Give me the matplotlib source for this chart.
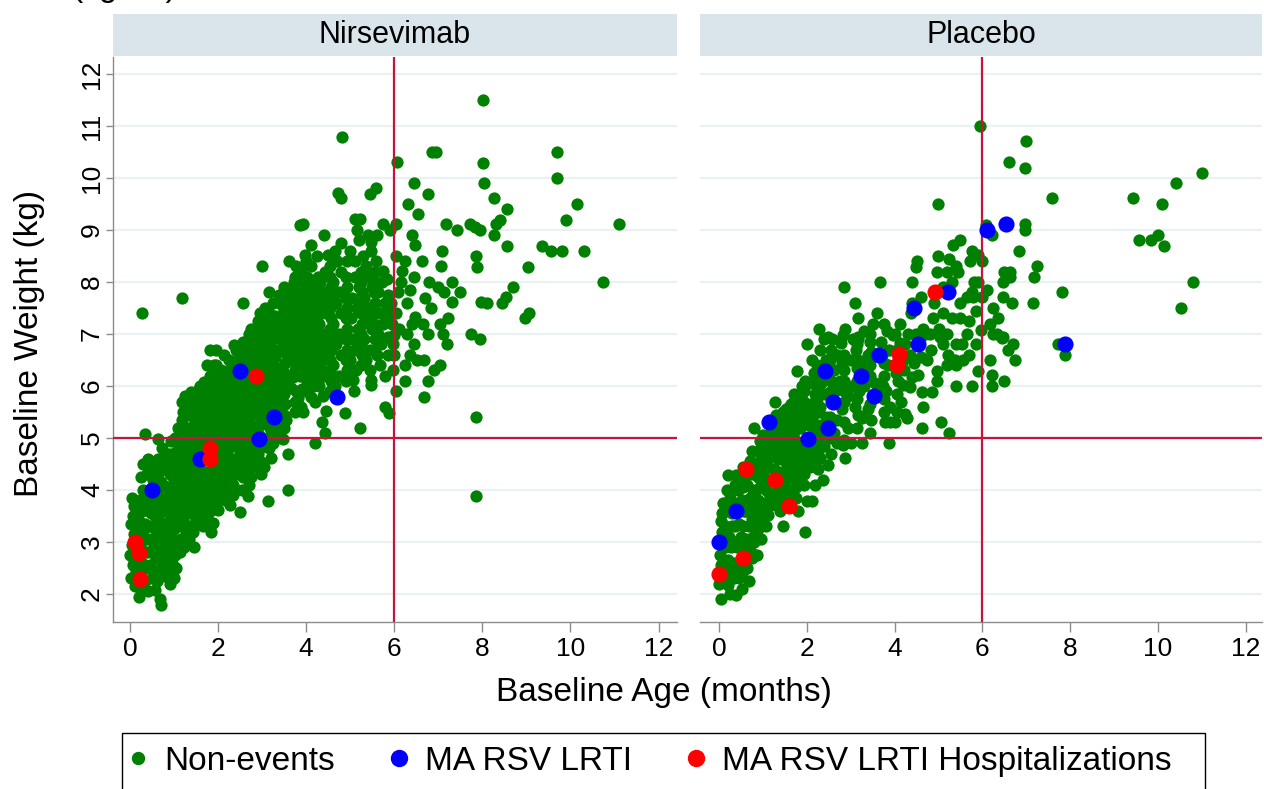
import matplotlib
matplotlib.use("Agg")
import matplotlib.pyplot as plt
from matplotlib.lines import Line2D
from matplotlib.patches import Rectangle

plt.rcParams['font.family'] = ['Liberation Sans', 'DejaVu Sans']

# ---------------------------------------------------------------
# Baseline age (months) and weight (kg) per participant
# ---------------------------------------------------------------
panel_titles = ["Nirsevimab", "Placebo"]
legend_labels = ["Non-events", "MA RSV LRTI", "MA RSV LRTI Hospitalizations"]
x_ticks = [0, 2, 4, 6, 8, 10, 12]
y_ticks = [2, 3, 4, 5, 6, 7, 8, 9, 10, 11, 12]
age_cutoff = 6
weight_cutoff = 5

nirsevimab_nonevents = [
    (0.02, 2.3), (0.06, 2.55), (0.0, 2.75), (0.05, 2.95), (0.08, 3.15), (0.02, 3.35),
    (0.06, 3.5), (0.1, 3.7), (0.04, 3.85), (0.12, 2.15), (0.1, 2.65), (0.12, 3.05),
    (0.14, 2.45), (0.15, 2.85), (0.14, 3.25), (0.16, 3.6),
    (0.2, 1.95), (0.25, 2.1), (0.18, 2.4), (0.28, 2.6), (0.22, 2.95), (0.3, 3.2),
    (0.2, 3.4), (0.27, 3.6), (0.22, 3.8), (0.3, 4.0), (0.26, 4.25), (0.33, 5.08),
    (0.3, 4.5), (0.18, 3.1),
    (0.35, 2.25), (0.36, 2.5), (0.34, 2.8), (0.36, 3.05), (0.35, 3.35), (0.37, 3.7),
    (0.36, 3.95), (0.38, 4.3),
    (0.42, 2.05), (0.5, 2.3), (0.45, 2.55), (0.4, 2.8), (0.5, 3.05), (0.43, 3.3),
    (0.48, 3.55), (0.4, 3.75), (0.52, 4.2), (0.46, 4.4), (0.42, 4.6), (0.56, 2.08),
    (0.55, 3.9),
    (0.56, 2.4), (0.58, 2.7), (0.55, 2.95), (0.57, 3.25), (0.56, 3.5), (0.58, 3.75),
    (0.57, 4.05), (0.56, 4.3), (0.58, 4.55),
    (0.67, 1.9), (0.71, 1.78), (0.62, 2.25), (0.7, 2.5), (0.65, 2.75), (0.6, 3.0),
    (0.7, 3.2), (0.63, 3.45), (0.68, 3.7), (0.62, 3.95), (0.7, 4.15), (0.66, 4.35),
    (0.64, 4.6), (0.64, 4.99), (0.72, 4.8),
    (0.76, 2.35), (0.77, 2.6), (0.75, 2.9), (0.76, 3.1), (0.78, 3.35), (0.75, 3.6),
    (0.77, 3.85), (0.76, 4.1), (0.78, 4.4), (0.75, 4.6),
    (0.85, 2.45), (0.8, 2.7), (0.9, 2.95), (0.82, 3.2), (0.88, 3.4), (0.8, 3.65),
    (0.9, 3.85), (0.84, 4.05), (0.9, 4.3), (0.82, 4.5), (0.88, 4.7), (0.9, 2.2),
    (0.95, 2.6), (0.96, 2.85), (0.94, 3.1), (0.97, 3.35), (0.95, 3.6), (0.96, 3.8),
    (0.94, 4.05), (0.97, 4.25), (0.95, 4.5), (0.96, 4.7), (0.94, 4.95),
    (1.0, 2.3), (1.05, 2.49), (1.02, 2.75), (1.08, 3.0), (1.0, 3.25), (1.06, 3.5),
    (1.0, 3.7), (1.1, 3.9), (1.03, 4.1), (1.08, 4.35), (1.0, 4.55), (1.06, 4.75),
    (1.02, 5.0), (1.1, 5.2),
    (1.14, 2.8), (1.15, 3.05), (1.16, 3.3), (1.14, 3.55), (1.15, 3.75), (1.16, 4.0),
    (1.14, 4.2), (1.15, 4.45), (1.16, 4.65), (1.14, 4.9),
    (1.19, 7.7), (1.22, 2.9), (1.28, 3.15), (1.2, 3.4), (1.3, 3.6), (1.24, 3.85),
    (1.2, 4.05), (1.3, 4.25), (1.22, 4.45), (1.28, 4.65), (1.2, 4.85), (1.3, 5.05),
    (1.17, 5.35), (1.2, 5.5), (1.18, 5.7), (1.15, 5.15), (1.25, 5.8),
    (1.35, 3.05), (1.34, 3.3), (1.36, 3.55), (1.35, 3.8), (1.34, 4.0), (1.36, 4.2),
    (1.35, 4.4), (1.34, 4.6), (1.36, 4.8), (1.35, 5.0), (1.34, 5.2), (1.36, 5.45),
    (1.35, 5.7),
    (1.45, 2.9), (1.42, 3.2), (1.5, 3.45), (1.4, 3.7), (1.48, 3.9), (1.42, 4.1),
    (1.5, 4.3), (1.44, 4.5), (1.4, 4.7), (1.5, 4.9), (1.42, 5.1), (1.48, 5.3),
    (1.4, 5.5), (1.39, 5.89), (1.5, 5.65),
    (1.55, 3.35), (1.54, 3.65), (1.56, 3.85), (1.55, 4.05), (1.54, 4.25), (1.56, 4.75),
    (1.55, 4.95), (1.54, 5.15), (1.56, 5.35), (1.55, 5.55), (1.54, 5.75), (1.56, 5.95),
    (1.65, 3.3), (1.6, 3.55), (1.7, 3.8), (1.62, 4.0), (1.68, 4.2), (1.6, 4.4),
    (1.7, 4.8), (1.64, 5.0), (1.6, 5.2), (1.7, 5.4), (1.62, 5.6), (1.68, 5.8),
    (1.69, 6.08), (1.6, 6.0),
    (1.75, 3.5), (1.74, 3.7), (1.76, 3.95), (1.75, 4.15), (1.74, 4.35), (1.76, 4.6),
    (1.75, 5.1), (1.74, 5.3), (1.76, 5.5), (1.75, 5.7), (1.74, 5.9), (1.76, 6.1),
    (1.75, 6.4),
    (1.84, 3.2), (1.88, 3.36), (1.82, 3.6), (1.9, 3.85), (1.8, 4.05), (1.86, 4.25),
    (1.9, 4.45), (1.84, 5.0), (1.88, 5.2), (1.8, 5.4), (1.9, 5.6), (1.82, 5.8),
    (1.88, 6.0), (1.81, 6.2), (1.81, 6.69), (1.9, 6.4),
    (1.95, 3.75), (1.94, 4.0), (1.96, 4.2), (1.95, 4.4), (1.94, 4.6), (1.96, 4.8),
    (1.95, 5.0), (1.94, 5.2), (1.96, 5.4), (1.95, 5.6), (1.94, 5.8), (1.96, 6.0),
    (1.95, 6.2),
    (2.0, 3.62), (2.05, 3.9), (2.0, 4.1), (2.1, 4.3), (2.02, 4.5), (2.08, 4.7),
    (2.0, 4.9), (2.1, 5.1), (2.04, 5.3), (2.0, 5.5), (2.1, 5.7), (2.02, 5.9),
    (2.08, 6.1), (1.96, 6.4), (1.96, 6.69), (2.06, 6.3),
    (2.15, 3.8), (2.14, 4.0), (2.16, 4.2), (2.15, 4.4), (2.14, 4.6), (2.16, 4.85),
    (2.15, 5.05), (2.14, 5.25), (2.16, 5.45), (2.15, 5.65), (2.14, 5.85), (2.16, 6.05),
    (2.15, 6.25), (2.14, 6.6),
    (2.26, 3.71), (2.2, 3.95), (2.3, 4.15), (2.22, 4.35), (2.28, 4.55), (2.2, 4.75),
    (2.3, 4.95), (2.24, 5.15), (2.2, 5.35), (2.3, 5.55), (2.22, 5.75), (2.28, 5.95),
    (2.2, 6.15), (2.3, 6.35), (2.25, 6.5),
    (2.35, 3.9), (2.36, 4.3), (2.34, 4.6), (2.35, 4.85), (2.36, 5.05), (2.34, 5.25),
    (2.35, 5.45), (2.36, 5.65), (2.34, 5.85), (2.35, 6.05), (2.36, 6.25), (2.34, 6.45),
    (2.49, 3.58), (2.34, 4.1), (2.45, 4.3), (2.4, 4.5), (2.5, 4.7), (2.42, 4.9),
    (2.48, 5.1), (2.4, 5.3), (2.5, 5.5), (2.44, 5.7), (2.4, 5.9), (2.5, 6.1),
    (2.37, 6.79), (2.41, 6.69), (2.45, 6.5),
    (2.55, 4.0), (2.56, 4.25), (2.54, 4.45), (2.55, 4.65), (2.56, 4.85), (2.54, 5.05),
    (2.55, 5.25), (2.56, 5.45), (2.54, 5.65), (2.55, 5.85), (2.56, 6.05), (2.54, 6.45),
    (2.55, 6.65), (2.56, 6.85),
    (2.68, 3.89), (2.71, 4.1), (2.62, 4.35), (2.7, 4.55), (2.65, 4.75), (2.6, 4.95),
    (2.7, 5.15), (2.64, 5.35), (2.68, 5.55), (2.6, 5.75), (2.7, 5.95), (2.64, 6.15),
    (2.7, 6.35), (2.6, 6.55), (2.66, 6.75), (2.7, 7.0), (2.56, 7.6),
    (2.75, 4.25), (2.76, 4.45), (2.74, 4.65), (2.75, 4.85), (2.76, 5.05), (2.74, 5.25),
    (2.75, 5.45), (2.76, 5.65), (2.74, 5.85), (2.75, 6.05), (2.76, 6.25), (2.74, 6.45),
    (2.75, 6.65), (2.76, 6.9), (2.74, 7.1),
    (2.98, 4.3), (2.85, 4.5), (2.9, 4.7), (2.82, 5.2), (2.95, 5.4), (2.85, 5.6),
    (2.92, 5.8), (2.82, 6.0), (2.95, 6.35), (2.86, 6.98), (3.02, 6.83), (2.9, 6.6),
    (2.8, 6.8), (3.0, 7.1), (2.9, 7.25),
    (2.95, 4.55), (2.96, 4.8), (2.94, 5.05), (2.95, 5.25), (2.96, 5.6), (2.94, 6.0),
    (2.95, 6.15), (2.96, 6.5), (2.94, 6.7), (2.95, 6.9), (2.96, 7.4),
    (3.05, 4.45), (3.06, 4.9), (3.04, 5.3), (3.05, 5.5), (3.06, 5.7), (3.04, 5.9),
    (3.05, 6.25), (3.06, 6.45), (3.04, 6.65), (3.05, 7.25), (3.06, 7.5),
    (3.13, 3.79), (3.2, 4.61), (3.15, 4.8), (3.1, 5.0), (3.18, 5.2), (3.1, 5.6),
    (3.2, 5.8), (3.12, 6.0), (3.18, 6.2), (3.1, 6.4), (3.2, 6.6), (3.15, 6.8),
    (3.1, 7.0), (3.2, 7.2), (3.15, 7.4), (3.15, 7.8), (3.0, 8.3),
    (3.25, 4.9), (3.26, 5.1), (3.24, 5.65), (3.25, 5.85), (3.26, 6.05), (3.24, 6.3),
    (3.25, 6.5), (3.26, 6.7), (3.24, 6.9), (3.25, 7.1), (3.26, 7.3), (3.24, 7.6),
    (3.47, 4.99), (3.35, 5.2), (3.4, 5.55), (3.3, 5.75), (3.45, 5.95), (3.35, 6.15),
    (3.42, 6.35), (3.3, 6.55), (3.45, 6.75), (3.35, 6.95), (3.42, 7.15), (3.3, 7.35),
    (3.45, 7.55), (3.38, 7.75), (3.49, 5.19), (3.54, 5.35),
    (3.5, 5.45), (3.52, 5.65), (3.5, 5.85), (3.52, 6.05), (3.5, 6.25), (3.52, 6.45),
    (3.5, 6.65), (3.52, 6.85), (3.5, 7.05), (3.52, 7.25), (3.5, 7.45), (3.52, 7.65),
    (3.5, 7.9),
    (3.58, 3.99), (3.58, 4.69), (3.65, 5.96), (3.7, 6.17), (3.77, 6.44), (3.74, 5.5),
    (3.81, 5.77), (3.62, 8.4), (3.64, 7.8), (3.6, 6.6), (3.68, 6.8), (3.62, 7.0),
    (3.7, 7.2), (3.6, 7.4), (3.68, 7.6), (3.72, 8.0),
    (3.75, 5.7), (3.76, 5.9), (3.74, 6.3), (3.75, 6.5), (3.76, 6.7), (3.74, 6.9),
    (3.75, 7.1), (3.76, 7.3), (3.74, 7.5), (3.75, 7.7), (3.76, 7.9), (3.74, 8.1),
    (3.78, 8.3),
    (3.85, 9.1), (3.85, 8.2), (3.97, 8.52), (3.92, 9.12), (3.89, 8.21), (3.93, 5.5),
    (3.89, 5.6), (3.9, 5.95), (3.85, 6.2), (3.95, 6.4), (3.88, 6.6), (3.96, 6.8),
    (3.86, 7.0), (3.94, 7.2), (3.88, 7.4), (3.96, 7.6), (3.9, 7.8), (3.86, 8.0),
    (4.0, 5.9), (4.02, 6.1), (4.0, 6.3), (4.02, 6.5), (4.0, 6.7), (4.02, 6.9),
    (4.0, 7.1), (4.02, 7.3), (4.0, 7.5), (4.02, 7.7), (4.0, 7.9), (4.02, 8.1),
    (4.0, 8.4),
    (4.11, 8.71), (4.12, 5.79), (4.2, 5.7), (4.2, 4.9), (4.15, 6.0), (4.1, 6.2),
    (4.2, 6.4), (4.12, 6.6), (4.18, 6.8), (4.1, 7.0), (4.2, 7.2), (4.14, 7.4),
    (4.1, 7.6), (4.2, 7.8), (4.15, 8.0), (4.1, 8.3),
    (4.25, 6.1), (4.26, 6.3), (4.24, 6.5), (4.25, 6.7), (4.26, 6.9), (4.24, 7.1),
    (4.25, 7.3), (4.26, 7.5), (4.24, 7.7), (4.25, 7.9), (4.26, 8.1), (4.25, 8.5),
    (4.35, 5.3), (4.42, 5.09), (4.46, 5.51), (4.4, 8.9), (4.5, 8.52), (4.3, 6.0),
    (4.4, 6.2), (4.32, 6.4), (4.45, 6.6), (4.35, 6.8), (4.42, 7.0), (4.3, 7.2),
    (4.45, 7.4), (4.36, 7.6), (4.44, 7.8), (4.32, 8.0), (4.42, 8.2), (4.38, 5.8),
    (4.55, 5.9), (4.56, 6.1), (4.54, 6.3), (4.55, 6.5), (4.56, 6.7), (4.54, 6.9),
    (4.55, 7.1), (4.56, 7.3), (4.54, 7.5), (4.55, 7.7), (4.56, 7.9), (4.54, 8.1),
    (4.55, 8.3),
    (4.73, 9.72), (4.8, 9.61), (4.82, 10.8), (4.88, 5.49), (4.65, 6.0), (4.75, 6.2),
    (4.62, 6.4), (4.78, 6.6), (4.68, 6.8), (4.75, 7.0), (4.62, 7.2), (4.78, 7.4),
    (4.68, 7.6), (4.75, 7.8), (4.62, 8.0), (4.78, 8.2), (4.7, 8.4), (4.65, 8.6),
    (4.8, 8.75),
    (4.9, 6.1), (4.92, 6.3), (4.9, 6.5), (4.92, 6.7), (4.9, 6.9), (4.92, 7.1),
    (4.9, 7.3), (4.92, 7.5), (4.9, 7.7), (4.92, 7.9), (4.9, 8.1), (4.92, 8.4),
    (5.1, 9.22), (5.22, 9.22), (5.16, 9.0), (5.1, 8.4), (5.08, 5.9), (5.14, 6.3),
    (5.07, 6.12), (5.22, 5.2), (5.0, 6.5), (5.12, 6.7), (5.05, 6.9), (5.18, 7.1),
    (5.02, 7.3), (5.15, 7.5), (5.05, 7.7), (5.2, 7.9), (5.1, 8.1), (5.0, 8.6),
    (5.2, 8.8),
    (5.25, 6.4), (5.26, 6.6), (5.24, 6.8), (5.25, 7.0), (5.26, 7.2), (5.24, 7.4),
    (5.25, 7.6), (5.26, 7.8), (5.24, 8.0), (5.25, 8.2), (5.3, 8.5),
    (5.46, 9.70), (5.58, 9.81), (5.41, 8.9), (5.48, 8.78), (5.48, 8.6), (5.48, 6.02),
    (5.48, 6.12), (5.44, 6.31), (5.35, 6.5), (5.45, 6.7), (5.32, 6.9), (5.5, 7.1),
    (5.38, 7.3), (5.45, 7.5), (5.32, 7.7), (5.5, 7.9), (5.4, 8.1), (5.35, 8.3),
    (5.55, 6.7), (5.56, 6.9), (5.54, 7.2), (5.55, 7.4), (5.56, 7.6), (5.54, 7.8),
    (5.55, 8.0), (5.56, 8.2),
    (5.6, 8.9), (5.58, 8.4), (5.75, 9.12), (5.75, 8.21), (5.78, 5.6), (5.88, 5.49),
    (5.6, 6.6), (5.7, 6.8), (5.62, 7.0), (5.75, 7.2), (5.65, 7.4), (5.78, 7.6),
    (5.62, 7.8), (5.72, 8.0), (5.68, 6.4), (5.8, 6.2),
    (5.85, 6.6), (5.86, 6.95), (5.84, 7.3), (5.85, 7.5), (5.86, 7.75), (5.84, 8.05),
    (5.91, 9.0), (6.05, 9.12), (6.06, 10.31), (6.05, 8.5), (6.03, 5.9), (5.97, 6.3),
    (5.99, 6.6), (5.97, 6.8), (6.0, 6.98), (6.16, 8.0), (6.18, 8.21), (5.95, 7.2),
    (6.05, 7.4), (5.92, 7.6), (6.08, 7.8), (6.1, 7.1),
    (6.31, 9.5), (6.41, 8.9), (6.47, 8.71), (6.44, 9.91), (6.54, 9.31), (6.24, 6.1),
    (6.24, 6.4), (6.44, 6.8), (6.35, 6.6), (6.52, 6.5), (6.35, 7.85), (6.28, 7.59),
    (6.47, 7.33), (6.3, 7.0), (6.4, 7.2), (6.25, 8.4), (6.45, 8.1),
    (6.64, 8.4), (6.77, 9.7), (6.85, 10.5), (6.95, 10.5), (6.67, 6.5), (6.77, 6.1),
    (6.67, 5.79), (6.84, 7.51), (6.99, 7.9), (6.77, 7.0), (6.9, 6.3), (6.65, 7.2),
    (6.8, 8.0), (6.7, 7.7), (7.03, 6.4),
    (7.07, 8.31), (7.09, 8.6), (7.18, 9.12), (7.12, 7.8), (7.22, 7.31), (7.3, 7.61),
    (7.2, 6.8), (7.32, 8.0), (7.43, 9.0), (7.49, 7.8), (7.11, 7.0), (7.03, 7.2),
    (7.73, 9.12), (7.83, 9.05), (7.94, 9.0), (7.85, 8.5), (7.88, 8.29), (7.98, 7.61),
    (7.75, 7.01), (7.94, 6.9), (7.85, 5.4), (7.85, 3.89), (8.02, 11.51), (8.02, 10.3),
    (8.04, 9.91), (8.1, 7.6),
    (8.27, 9.61), (8.57, 9.4), (8.40, 9.2), (8.31, 9.11), (8.27, 8.9), (8.57, 8.7),
    (8.70, 7.9), (8.54, 7.71), (8.44, 7.6), (9.03, 8.29), (9.07, 7.4), (8.97, 7.3),
    (9.36, 8.7), (9.56, 8.6), (9.82, 8.6), (9.69, 10.5), (9.69, 10.0), (9.91, 9.2),
    (10.16, 9.5), (10.31, 8.6), (10.73, 8.0), (11.1, 9.11),
    (0.27, 7.40),
]

nirsevimab_lrti = [
    (2.50, 6.29), (3.26, 5.40), (2.93, 4.99), (1.60, 4.59), (0.50, 3.99), (4.70, 5.79),
]

nirsevimab_hosp = [
    (2.87, 6.19), (1.82, 4.80), (1.81, 4.59), (0.11, 2.99), (0.20, 2.78), (0.23, 2.29),
]

placebo_nonevents = [
    (0.0, 2.2), (0.04, 1.9), (0.05, 2.55), (0.02, 2.75), (0.08, 3.2), (0.04, 3.4),
    (0.1, 2.9), (0.06, 3.55), (0.1, 3.75), (0.12, 2.35),
    (0.14, 2.5), (0.15, 2.9), (0.14, 3.3), (0.16, 3.6),
    (0.21, 2.17), (0.25, 2.45), (0.2, 2.65), (0.28, 2.9), (0.22, 3.1), (0.3, 3.3),
    (0.18, 4.0), (0.21, 4.29), (0.25, 3.85), (0.3, 3.55), (0.26, 2.0),
    (0.35, 2.3), (0.36, 2.6), (0.34, 3.0), (0.36, 3.3), (0.35, 3.75), (0.36, 4.1),
    (0.4, 1.98), (0.52, 2.09), (0.45, 2.3), (0.48, 2.5), (0.42, 2.9), (0.5, 3.1),
    (0.45, 3.35), (0.52, 3.8), (0.44, 4.0), (0.4, 4.29), (0.55, 4.45),
    (0.56, 2.45), (0.58, 2.9), (0.55, 3.3), (0.57, 3.6), (0.56, 4.05), (0.58, 4.25),
    (0.65, 2.5), (0.7, 2.85), (0.62, 3.05), (0.68, 3.3), (0.6, 3.6), (0.7, 3.85),
    (0.64, 4.1), (0.7, 4.55), (0.68, 2.25),
    (0.76, 2.7), (0.77, 3.1), (0.75, 3.45), (0.76, 3.7), (0.78, 4.0), (0.75, 4.3),
    (0.76, 4.75),
    (0.8, 3.0), (0.88, 3.25), (0.93, 3.3), (0.82, 3.55), (0.9, 3.8), (0.84, 4.0),
    (0.9, 4.25), (0.82, 4.5), (0.88, 4.75), (0.8, 5.2), (0.86, 2.75),
    (0.95, 3.05), (0.96, 3.5), (0.94, 3.7), (0.97, 4.1), (0.95, 4.45), (0.96, 4.65),
    (0.94, 4.95),
    (1.12, 3.52), (1.02, 3.75), (1.08, 4.0), (1.0, 4.3), (1.1, 4.6), (1.04, 4.85),
    (1.0, 5.05), (1.08, 3.3), (1.12, 4.45),
    (1.14, 3.7), (1.15, 3.95), (1.16, 4.2), (1.14, 4.75), (1.15, 4.95), (1.16, 5.1),
    (1.28, 5.7), (1.22, 3.8), (1.3, 3.95), (1.25, 4.4), (1.2, 4.65), (1.3, 4.85),
    (1.24, 5.05), (1.32, 5.25), (1.3, 5.45),
    (1.35, 3.7), (1.34, 4.1), (1.36, 4.3), (1.35, 4.6), (1.34, 4.95), (1.36, 5.15),
    (1.35, 5.4),
    (1.46, 3.3), (1.46, 5.5), (1.4, 3.9), (1.5, 4.1), (1.42, 4.35), (1.5, 4.55),
    (1.44, 4.75), (1.5, 4.95), (1.42, 5.15), (1.48, 5.3), (1.4, 3.6),
    (1.55, 3.8), (1.54, 4.2), (1.56, 4.4), (1.55, 4.65), (1.54, 4.9), (1.56, 5.1),
    (1.55, 5.35), (1.54, 5.55),
    (1.62, 4.0), (1.7, 4.25), (1.64, 4.45), (1.7, 4.65), (1.6, 4.85), (1.68, 5.05),
    (1.6, 5.25), (1.7, 5.45), (1.64, 5.65), (1.7, 5.85), (1.6, 5.6), (1.75, 3.85),
    (1.75, 4.05), (1.74, 4.45), (1.76, 4.75), (1.75, 4.95), (1.74, 5.15), (1.76, 5.35),
    (1.75, 5.55), (1.74, 5.75),
    (1.81, 3.6), (1.96, 3.2), (1.79, 6.29), (1.96, 6.1), (1.85, 4.2), (1.9, 4.4),
    (1.82, 4.6), (1.88, 4.8), (1.84, 5.2), (1.9, 5.4), (1.82, 5.6), (1.88, 5.8),
    (1.9, 6.0),
    (1.95, 4.1), (1.94, 4.3), (1.96, 4.5), (1.95, 4.7), (1.94, 5.3), (1.96, 5.5),
    (1.95, 5.7), (1.94, 5.9),
    (2.0, 3.79), (2.11, 3.79), (2.19, 4.1), (2.07, 4.45), (2.15, 4.58), (2.1, 4.75),
    (2.18, 5.1), (2.05, 5.25), (2.15, 5.45), (2.1, 5.65), (2.18, 5.85), (2.08, 6.05),
    (2.16, 6.25), (2.0, 6.8), (2.12, 6.5),
    (2.25, 4.4), (2.26, 4.75), (2.24, 4.95), (2.25, 5.25), (2.26, 5.5), (2.24, 5.75),
    (2.25, 5.95), (2.26, 6.15), (2.24, 6.4),
    (2.38, 4.19), (2.49, 4.48), (2.3, 4.61), (2.4, 4.85), (2.35, 5.05), (2.45, 5.4),
    (2.3, 5.6), (2.42, 5.85), (2.32, 6.05), (2.45, 6.5), (2.3, 6.7), (2.28, 7.1),
    (2.48, 6.95), (2.4, 6.9),
    (2.55, 4.7), (2.56, 5.0), (2.54, 5.4), (2.55, 5.9), (2.56, 6.1), (2.54, 6.5),
    (2.55, 6.7),
    (2.57, 6.9), (2.68, 4.9), (2.83, 4.87), (2.87, 4.61), (2.62, 5.1), (2.7, 5.35),
    (2.8, 5.55), (2.65, 5.9), (2.75, 6.1), (2.62, 6.3), (2.8, 6.45), (2.7, 6.6),
    (2.79, 6.82), (2.85, 7.9), (2.87, 7.1), (2.83, 6.98),
    (2.85, 5.3), (2.86, 5.7), (2.84, 5.9), (2.85, 6.1), (2.86, 6.3), (2.84, 6.6),
    (2.85, 4.97), (3.0, 4.9), (3.06, 6.9), (3.17, 6.9), (3.1, 7.6), (3.17, 7.3),
    (3.17, 6.95), (2.95, 5.2), (3.1, 5.6), (2.95, 5.8), (3.05, 6.0), (3.15, 6.35),
    (3.0, 6.5), (3.12, 6.7), (3.2, 5.9),
    (3.15, 5.2), (3.16, 5.45), (3.14, 5.75), (3.15, 6.1), (3.16, 6.5), (3.14, 6.8),
    (3.25, 4.9), (3.25, 5.38), (3.4, 5.55), (3.3, 6.0), (3.45, 6.2), (3.35, 6.4),
    (3.45, 6.85), (3.3, 7.05), (3.5, 7.2), (3.4, 6.6), (3.55, 6.05), (3.6, 7.4),
    (3.45, 5.1), (3.46, 5.35), (3.44, 5.65), (3.45, 6.4), (3.46, 6.65), (3.44, 7.0),
    (3.67, 8.0), (3.78, 5.3), (3.9, 5.3), (3.88, 4.9), (3.82, 7.05), (3.75, 6.2),
    (3.85, 6.4), (3.7, 6.85), (3.8, 5.9), (3.72, 6.6), (3.88, 6.7), (3.9, 5.6),
    (3.75, 5.5), (3.76, 5.75), (3.74, 6.0), (3.75, 6.45), (3.76, 7.2),
    (4.05, 5.5), (4.06, 5.85), (4.04, 6.25), (4.05, 6.7), (4.2, 6.5), (4.22, 6.3),
    (3.97, 6.98), (4.12, 6.82), (4.35, 6.6), (4.54, 6.21), (4.39, 6.18), (4.08, 6.1),
    (4.2, 6.02), (4.35, 5.99), (4.14, 5.7), (4.24, 5.47), (4.28, 5.38), (4.0, 5.3),
    (4.63, 5.2), (4.12, 7.2), (4.0, 7.0), (4.39, 8.0), (4.52, 8.4), (4.5, 8.29),
    (4.4, 7.6), (4.37, 7.4), (4.6, 7.71), (4.65, 7.1), (4.65, 6.98), (4.25, 6.8),
    (4.45, 6.45), (4.6, 6.55), (4.3, 7.0), (4.5, 7.0),
    (4.84, 6.69), (4.96, 6.29), (4.96, 6.1), (4.86, 5.89), (4.63, 5.89), (4.65, 5.6),
    (5.05, 5.3), (5.25, 5.09), (5.0, 9.5), (5.0, 8.5), (4.96, 8.2), (5.11, 7.9),
    (4.88, 7.3), (5.11, 7.4), (5.02, 7.1), (5.03, 6.95), (5.11, 6.8), (5.22, 6.6),
    (5.19, 6.4), (4.8, 7.0), (4.75, 6.5), (5.2, 8.2), (5.25, 8.45), (5.3, 8.0),
    (5.3, 7.3), (4.9, 7.6), (5.2, 7.0),
    (5.38, 6.5), (5.41, 6.4), (5.41, 6.8), (5.53, 6.8), (5.57, 6.5), (5.64, 7.0),
    (5.39, 6.0), (5.76, 6.0), (5.34, 8.71), (5.49, 8.81), (5.4, 8.3), (5.45, 8.2),
    (5.72, 8.4), (5.76, 8.6), (5.91, 8.52), (6.0, 8.4), (5.8, 8.0), (5.91, 8.0),
    (5.65, 7.71), (5.79, 7.71), (6.0, 7.71), (5.76, 7.81), (5.98, 7.08), (5.5, 7.3),
    (5.7, 7.25), (5.85, 7.45), (5.5, 7.6), (5.91, 6.29), (5.7, 6.6), (5.85, 6.8),
    (6.25, 7.0), (6.44, 6.92), (6.59, 6.69), (6.70, 6.8), (6.17, 6.5), (6.74, 6.5),
    (6.23, 6.21), (6.5, 6.1), (6.23, 6.0), (6.08, 9.1), (6.21, 8.9), (6.49, 8.2),
    (6.64, 8.2), (6.48, 8.0), (6.63, 8.1), (6.48, 7.71), (6.67, 7.6), (6.25, 7.51),
    (6.17, 7.2), (6.33, 7.0), (6.48, 6.95), (6.61, 10.31), (6.97, 10.2), (6.99, 10.71),
    (5.95, 11.0), (6.83, 8.6), (6.97, 9.11), (6.97, 9.0), (6.35, 7.3), (6.1, 7.85),
    (7.24, 8.31), (7.18, 8.1), (7.82, 7.8), (7.16, 7.6), (7.59, 9.61), (7.73, 6.8),
    (7.88, 6.6), (9.44, 9.61), (10.1, 9.5), (10.4, 9.91), (11.0, 10.1), (9.57, 8.81),
    (9.84, 8.81), (10.0, 8.9), (10.13, 8.7), (10.79, 8.0), (10.52, 7.51),
]

placebo_lrti = [
    (3.64, 6.6), (2.41, 6.29), (3.24, 6.2), (2.59, 5.7), (3.54, 5.8), (1.15, 5.3),
    (2.49, 5.2), (2.02, 4.99), (0.40, 3.6), (0.01, 2.99), (4.54, 6.8), (4.44, 7.51),
    (5.22, 7.8), (6.11, 9.0), (6.54, 9.11), (7.88, 6.8),
]

placebo_hosp = [
    (4.92, 7.8), (4.11, 6.62), (4.05, 6.40), (0.61, 4.4), (1.28, 4.19), (1.60, 3.69),
    (0.54, 2.69), (0.01, 2.38),
]

# ---------------------------------------------------------------
# Styling
# ---------------------------------------------------------------
W, H = 1264, 789
GREEN, BLUE, RED = "#008000", "#0000FF", "#FF0000"
REFLINE = "#C8143C"
GRID = "#EAF1F3"
STRIP = "#D9E5EB"
AXIS = "#8C8C8C"
FS_TITLE = 24
FS_STRIP = 22
FS_TICK = 19
FS_LEGEND = 24
S_SMALL, S_BIG = 78, 135

fig = plt.figure(figsize=(W / 100, H / 100), dpi=100)


def add_px_axes(left, top, right, bottom):
    return fig.add_axes([left / W, 1 - bottom / H, (right - left) / W, (bottom - top) / H])


panel_boxes = [(113, 57, 677, 622), (700, 57, 1262, 622)]
panel_xlims = [(-0.386, 12.42), (-0.43, 12.37)]
panel_data = [
    (nirsevimab_nonevents, nirsevimab_lrti, nirsevimab_hosp),
    (placebo_nonevents, placebo_lrti, placebo_hosp),
]

for i, (title, box, xlim, groups) in enumerate(zip(panel_titles, panel_boxes, panel_xlims, panel_data)):
    ax = add_px_axes(*box)
    ax.set_xlim(*xlim)
    ax.set_ylim(1.46, 12.33)
    ax.set_facecolor("white")

    for yv in y_ticks:
        ax.axhline(yv, color=GRID, lw=1.6, zorder=0)

    non, lrti, hosp = groups
    ax.scatter([p[0] for p in non], [p[1] for p in non], s=S_SMALL, color=GREEN,
               linewidths=0, zorder=2)
    ax.axvline(age_cutoff, color=REFLINE, lw=1.6, zorder=3)
    ax.axhline(weight_cutoff, color=REFLINE, lw=1.6, zorder=3)
    ax.scatter([p[0] for p in lrti], [p[1] for p in lrti], s=S_BIG, color=BLUE,
               linewidths=0, zorder=4)
    ax.scatter([p[0] for p in hosp], [p[1] for p in hosp], s=S_BIG, color=RED,
               linewidths=0, zorder=5)

    for side in ("top", "right"):
        ax.spines[side].set_visible(False)
    ax.spines["bottom"].set_color(AXIS)
    ax.spines["bottom"].set_linewidth(1.0)
    ax.set_xticks(x_ticks)
    ax.set_xticklabels([str(t) for t in x_ticks], fontsize=FS_TICK)
    ax.tick_params(axis="x", length=7, width=1.0, color=AXIS, pad=4)
    ax.set_yticks(y_ticks)
    if i == 0:
        ax.spines["left"].set_color(AXIS)
        ax.spines["left"].set_linewidth(1.0)
        ax.set_yticklabels([str(t) for t in y_ticks], fontsize=FS_TICK,
                           rotation=90, va="center")
        ax.tick_params(axis="y", length=5, width=1.0, color=AXIS, pad=1.5)
    else:
        ax.spines["left"].set_visible(False)
        ax.tick_params(axis="y", length=0, labelleft=False)

    # facet strip
    sx = add_px_axes(box[0], 14, box[2], 56)
    sx.set_facecolor(STRIP)
    sx.set_xticks([])
    sx.set_yticks([])
    for sp in sx.spines.values():
        sp.set_visible(False)
    sx.text(0.5, 0.5, title, transform=sx.transAxes, ha="center", va="center",
            fontsize=FS_STRIP)

fig.text(664 / W, 1 - 693 / H, "Baseline Age (months)", ha="center", va="center",
         fontsize=FS_TITLE)
fig.text(30 / W, 1 - 343 / H, "Baseline Weight (kg)", ha="center", va="center",
         rotation=90, fontsize=FS_TITLE)
fig.text(72 / W, 1 + 4 / H, "(kg/m\u00b2)", ha="left", va="baseline", fontsize=FS_TITLE)

# legend: entries from matplotlib, frame drawn to the full box width
handles = [
    Line2D([], [], ls="none", marker="o", ms=8.6, color=GREEN),
    Line2D([], [], ls="none", marker="o", ms=11.5, color=BLUE),
    Line2D([], [], ls="none", marker="o", ms=11.5, color=RED),
]
leg = fig.legend(handles, legend_labels, ncol=3, loc="upper left",
                 bbox_to_anchor=(118 / W, 1 - 736 / H), bbox_transform=fig.transFigure,
                 fontsize=FS_LEGEND, frameon=False, borderpad=0.3,
                 handlelength=0.6, handletextpad=0.5, columnspacing=1.6,
                 borderaxespad=0)
fig.add_artist(Rectangle((122 / W, -2 / H), (1205 - 122) / W, (789 - 733 + 2) / H,
                         transform=fig.transFigure, fill=False, edgecolor="black",
                         linewidth=1.0))

fig.savefig("out.png", dpi=100)
